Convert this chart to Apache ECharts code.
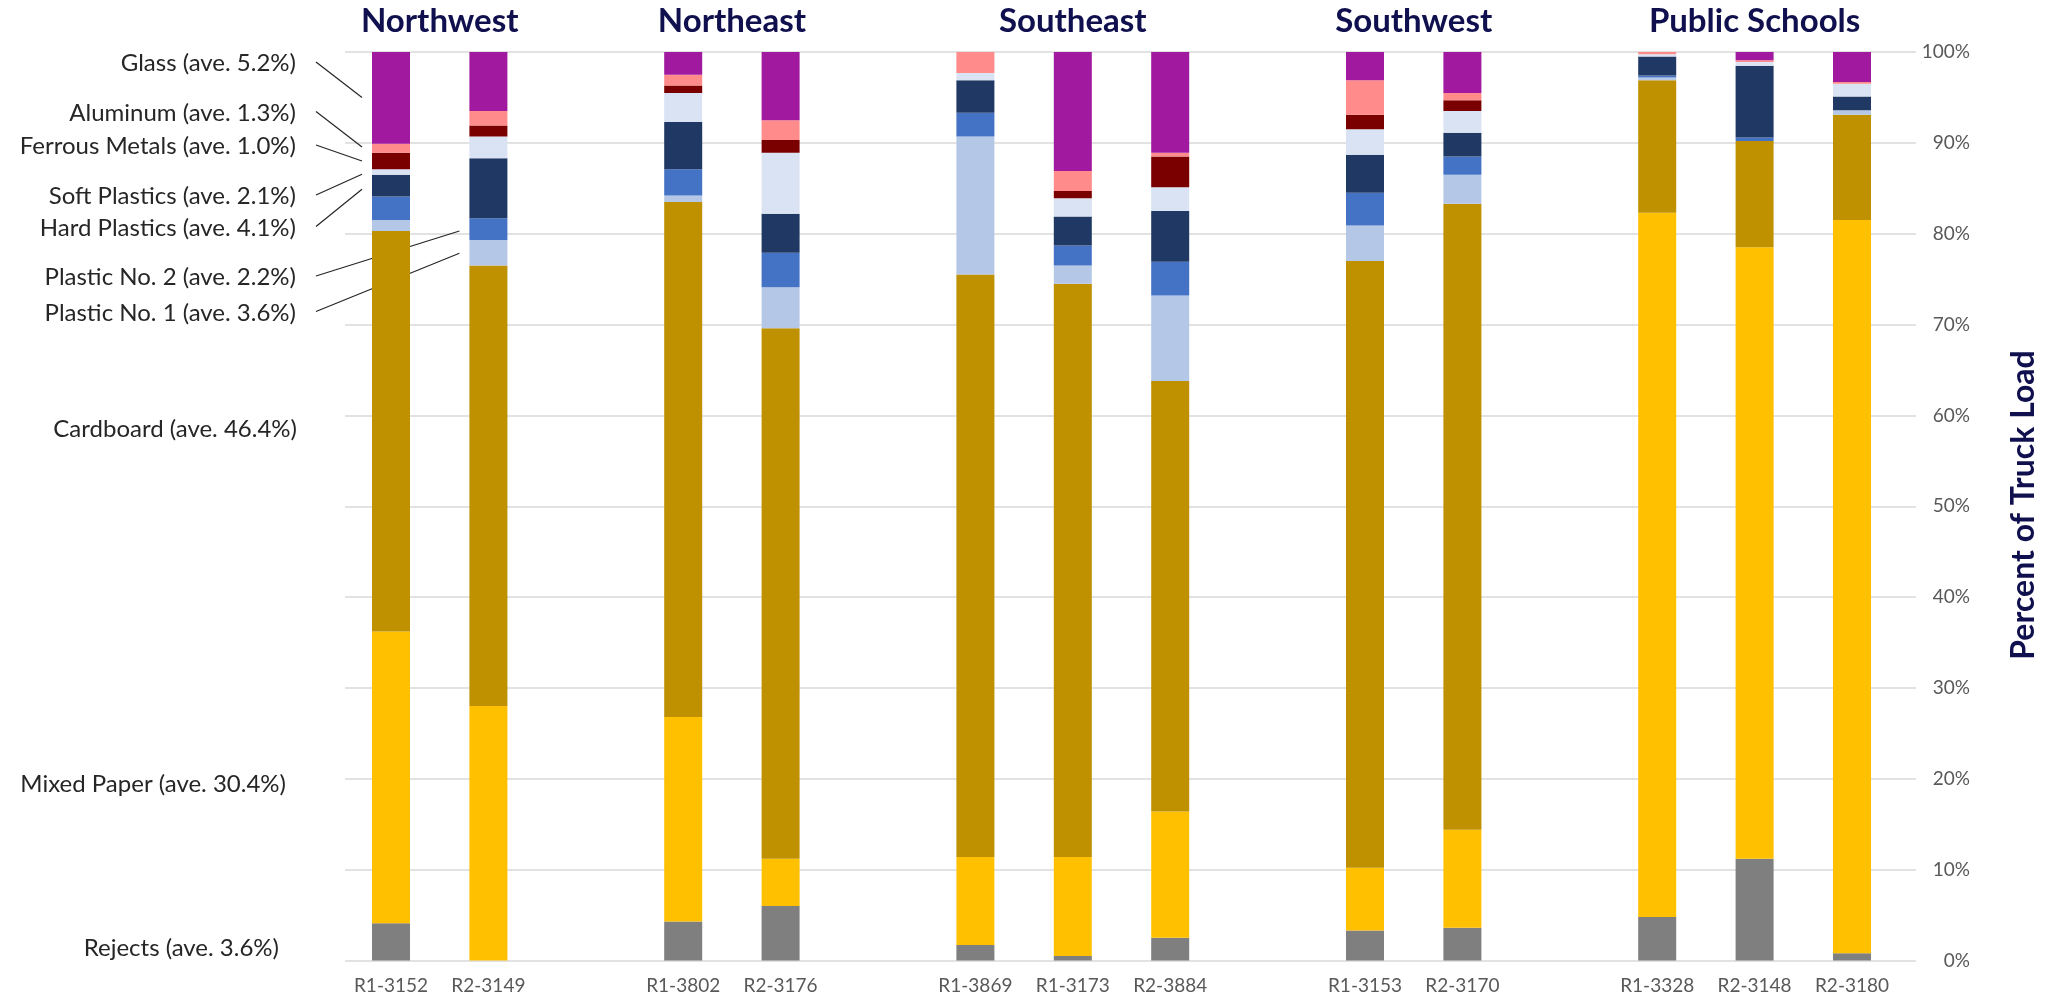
<!DOCTYPE html>
<html>
<head>
<meta charset="utf-8">
<script src="https://cdn.jsdelivr.net/npm/echarts@6/dist/echarts.min.js"></script>
<style>
html,body{margin:0;padding:0;background:#ffffff;}
#chart{width:2053px;height:998px;}
</style>
</head>
<body>
<div id="chart"></div>
<script>
// ---------------- DATA ----------------
const samples = ['R1-3152','R2-3149','R1-3802','R2-3176','R1-3869','R1-3173','R2-3884','R1-3153','R2-3170','R1-3328','R2-3148','R2-3180'];
const regions = ['Northwest','Northeast','Southeast','Southwest','Public Schools'];
const regionSizes = [2, 2, 3, 2, 3];
const materials = ['Rejects','Mixed Paper','Cardboard','Plastic No. 1','Plastic No. 2','Hard Plastics','Soft Plastics','Ferrous Metals','Aluminum','Glass'];
const averages = [3.6, 30.4, 46.4, 3.6, 2.2, 4.1, 2.1, 1.0, 1.3, 5.2];
const yTicks = [0, 10, 20, 30, 40, 50, 60, 70, 80, 90, 100];

const rejects      = [4.1, 0.0, 4.3, 6.0, 1.7, 0.5, 2.5, 3.3, 3.6, 4.8, 11.2, 0.8];
const mixedPaper   = [32.1, 28.0, 22.5, 5.2, 9.7, 10.9, 13.9, 6.9, 10.8, 77.5, 67.3, 80.7];
const cardboard    = [44.1, 48.5, 56.7, 58.4, 64.1, 63.1, 47.4, 66.8, 68.9, 14.6, 11.7, 11.6];
const plasticNo1   = [1.2, 2.8, 0.7, 4.5, 15.2, 2.0, 9.4, 3.9, 3.2, 0.3, 0.0, 0.5];
const plasticNo2   = [2.6, 2.4, 2.9, 3.8, 2.6, 2.2, 3.7, 3.6, 2.0, 0.2, 0.4, 0.0];
const hardPlastics = [2.4, 6.6, 5.2, 4.3, 3.6, 3.2, 5.6, 4.2, 2.6, 2.1, 7.9, 1.5];
const softPlastics = [0.6, 2.4, 3.2, 6.7, 0.8, 2.0, 2.6, 2.8, 2.4, 0.25, 0.4, 1.4];
const ferrous      = [1.8, 1.2, 0.8, 1.4, 0.0, 0.8, 3.4, 1.6, 1.2, 0.0, 0.0, 0.0];
const aluminum     = [1.0, 1.6, 1.2, 2.2, 2.3, 2.2, 0.4, 3.8, 0.8, 0.25, 0.2, 0.2];
const glass        = [10.1, 6.5, 2.5, 7.5, 0.0, 13.1, 11.1, 3.1, 4.5, 0.0, 0.9, 3.3];

const seriesValues = [rejects, mixedPaper, cardboard, plasticNo1, plasticNo2, hardPlastics, softPlastics, ferrous, aluminum, glass];

// ---------------- STYLE ----------------
const colors = ['#7F7F7F','#FFC000','#BF9000','#B4C7E7','#4472C4','#203864','#DAE3F3','#7A0000','#FF8B8B','#A0199F'];
const navy = '#10104F';
const FONT = 'Lato';

// build categories with one blank slot between regions
const categories = [];
const slotOfSample = [];
const regionSlots = [];
let si = 0;
regionSizes.forEach((n, g) => {
  if (g > 0) categories.push(' '.repeat(g));
  const first = categories.length;
  for (let i = 0; i < n; i++) { slotOfSample.push(categories.length); categories.push(samples[si++]); }
  regionSlots.push([first, categories.length - 1]);
});
function spread(values) {
  const out = categories.map(() => '-');
  values.forEach((v, i) => { out[slotOfSample[i]] = v; });
  return out;
}

const gridTop = 52, gridBottom = 37.5;
const BAR_W = 38;

const chart = echarts.init(document.getElementById('chart'), null, {renderer: 'canvas'});

const option = {
  animation: false,
  backgroundColor: '#ffffff',
  grid: [
    {left: 345, right: 137, top: gridTop, bottom: gridBottom},
    {left: 342.3, right: 152.3, top: gridTop, bottom: gridBottom}
  ],
  xAxis: [
    {gridIndex: 0, type: 'value', show: false, min: 0, max: 1},
    {
      gridIndex: 1, type: 'category', data: categories,
      axisLine: {show: false}, axisTick: {show: false},
      axisLabel: {color: '#595959', fontSize: 19, fontFamily: FONT, margin: 16, interval: 0}
    }
  ],
  yAxis: [
    {
      gridIndex: 0, type: 'value', position: 'right', min: 0, max: 100, interval: 10,
      axisLine: {show: false}, axisTick: {show: false},
      splitLine: {show: true, lineStyle: {color: '#D9D9D9', width: 1.5}},
      axisLabel: {
        formatter: v => (yTicks.indexOf(v) >= 0 ? v + '%' : ''),
        color: '#595959', fontSize: 19, fontFamily: FONT, align: 'right', margin: 54
      }
    },
    {gridIndex: 1, type: 'value', min: 0, max: 100, show: false}
  ],
  series: materials.map((m, k) => ({
    name: m,
    type: 'bar',
    stack: 'load',
    xAxisIndex: 1,
    yAxisIndex: 1,
    barWidth: BAR_W,
    itemStyle: {color: colors[k]},
    data: spread(seriesValues[k])
  }))
};
chart.setOption(option);

// ---------------- ANNOTATIONS (layout) ----------------
const labelLayout = [
  {m: 9, y: 63.5,  right: 296, to: {s: 0, v: 95.0}},
  {m: 8, y: 113,   right: 296, to: {s: 0, v: 89.55}},
  {m: 7, y: 146.5, right: 296, to: {s: 0, v: 88.0}},
  {m: 6, y: 196.5, right: 296, to: {s: 0, v: 86.55}},
  {m: 5, y: 228,   right: 296, to: {s: 0, v: 84.9}},
  {m: 4, y: 277.5, right: 296, to: {s: 1, v: 80.3}},
  {m: 3, y: 313,   right: 296, to: {s: 1, v: 77.85}},
  {m: 2, y: 429.5, right: 297},
  {m: 1, y: 784,   right: 286},
  {m: 0, y: 948,   right: 279}
];
const lineStartX = 316;

const graphics = [];
labelLayout.forEach(L => {
  graphics.push({
    type: 'text', left: null, x: L.right, y: L.y, silent: true,
    style: {
      text: materials[L.m] + ' (ave. ' + averages[L.m].toFixed(1) + '%)',
      fill: '#262626', font: '24px ' + FONT, align: 'right', verticalAlign: 'middle'
    }
  });
  if (L.to) {
    const p = chart.convertToPixel({xAxisIndex: 1, yAxisIndex: 1}, [slotOfSample[L.to.s], L.to.v]);
    graphics.push({
      type: 'line', silent: true,
      shape: {x1: lineStartX, y1: L.y - 1.5, x2: p[0] - BAR_W / 2 - 10, y2: p[1]},
      style: {stroke: '#262626', lineWidth: 1.2}
    });
  }
});

// region titles
regions.forEach((r, g) => {
  const a = chart.convertToPixel({xAxisIndex: 1}, regionSlots[g][0]);
  const b = chart.convertToPixel({xAxisIndex: 1}, regionSlots[g][1]);
  graphics.push({
    type: 'text', x: (a + b) / 2, y: 21, silent: true,
    style: {text: r, fill: navy, font: 'bold 33px ' + FONT, align: 'center', verticalAlign: 'middle'}
  });
});

// axis title
graphics.push({
  type: 'text', x: 2024, y: 505, rotation: Math.PI / 2, silent: true,
  style: {text: 'Percent of Truck Load', fill: navy, font: 'bold 32px ' + FONT, align: 'center', verticalAlign: 'middle'}
});

chart.setOption({graphic: graphics});
</script>
</body>
</html>
